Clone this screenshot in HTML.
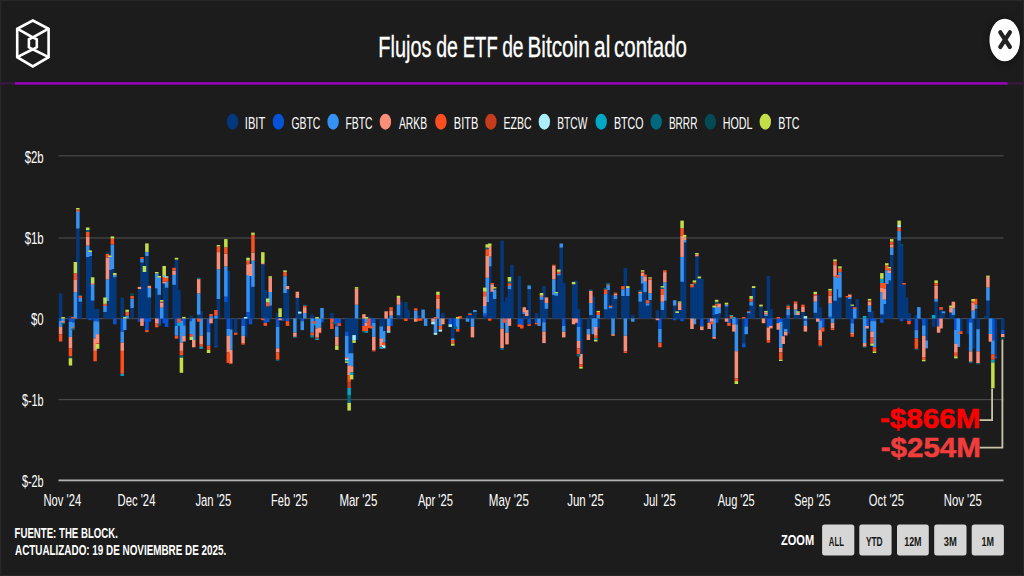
<!DOCTYPE html>
<html><head><meta charset="utf-8"><style>
html,body{margin:0;padding:0;background:#1c1c1c;}
body{width:1024px;height:576px;overflow:hidden;}
svg{display:block;font-family:"Liberation Sans",sans-serif;}
</style></head><body>
<svg width="1024" height="576" viewBox="0 0 1024 576">
<rect x="0" y="0" width="1024" height="576" fill="#1c1c1c"/>
<rect x="0" y="0" width="1024" height="1.1" fill="#282828"/>
<rect x="0" y="0" width="1.2" height="576" fill="#282828"/>
<rect x="1022.9" y="0" width="1.1" height="576" fill="#272727"/>
<rect x="0" y="574.9" width="1024" height="1.1" fill="#272727"/>
<g fill="none" stroke="#fff" stroke-width="2.6" stroke-linejoin="miter">
<path d="M32.8,20.5 L48.6,28.8 L48.6,57.2 L32.8,66.4 L17.2,57.2 L17.2,28.8 Z"/>
<path d="M17.2,28.7 L32.8,37.4 L48.6,28.7"/>
<path d="M17.2,57.2 L32.8,49.3 L48.6,57.2"/>
<path d="M32.8,37.4 L28.9,39.4 L28.9,47.3 L32.8,49.3 L36.8,47.3 L36.8,39.4 Z"/>
</g>
<defs><filter id="sh" x="-50%" y="-50%" width="200%" height="200%"><feGaussianBlur stdDeviation="3"/></filter></defs>
<ellipse cx="1004.75" cy="41" rx="16" ry="22" fill="#000" opacity="0.45" filter="url(#sh)"/>
<ellipse cx="1004.75" cy="40" rx="15.3" ry="21.3" fill="#fff"/>
<path d="M1000.3,32.3 L1009.9,47 M1009.9,32.3 L1000.3,47" stroke="#222" stroke-width="4.2" stroke-linecap="round"/>
<rect x="0" y="82.3" width="1024" height="2.2" fill="#3a1842"/>
<rect x="15" y="82.3" width="992.5" height="2.2" fill="#a300cc"/>
<ellipse cx="232.60" cy="121.7" rx="5.7" ry="8" fill="#04387c"/>
<ellipse cx="278.40" cy="121.7" rx="5.7" ry="8" fill="#0653d8"/>
<ellipse cx="333.10" cy="121.7" rx="5.7" ry="8" fill="#3592f2"/>
<ellipse cx="385.40" cy="121.7" rx="5.7" ry="8" fill="#f98f79"/>
<ellipse cx="440.90" cy="121.7" rx="5.7" ry="8" fill="#fc4e1f"/>
<ellipse cx="490.90" cy="121.7" rx="5.7" ry="8" fill="#c63b1c"/>
<ellipse cx="544.35" cy="121.7" rx="5.7" ry="8" fill="#aaeefa"/>
<ellipse cx="601.20" cy="121.7" rx="5.7" ry="8" fill="#00a8c6"/>
<ellipse cx="656.20" cy="121.7" rx="5.7" ry="8" fill="#02687d"/>
<ellipse cx="710.40" cy="121.7" rx="5.7" ry="8" fill="#034a55"/>
<ellipse cx="765.30" cy="121.7" rx="5.7" ry="8" fill="#c4de48"/>
<g fill="#494949">
<rect x="58.5" y="155.2" width="945" height="1.2"/>
<rect x="58.5" y="237.4" width="945" height="1.2"/>
<rect x="58.5" y="318" width="945" height="1.2"/>
<rect x="58.5" y="399" width="945" height="1.2"/>
</g>
<g>
<g fill="#04387c"><rect x="58.83" y="293.30" width="3.5" height="25.20"/><rect x="68.70" y="316.00" width="3.5" height="2.50"/><rect x="76.10" y="228.60" width="3.5" height="89.90"/><rect x="78.56" y="301.70" width="3.5" height="16.80"/><rect x="85.96" y="257.00" width="3.5" height="61.50"/><rect x="88.43" y="256.00" width="3.5" height="62.50"/><rect x="90.90" y="300.60" width="3.5" height="17.90"/><rect x="93.36" y="309.00" width="3.5" height="9.50"/><rect x="95.83" y="309.00" width="3.5" height="9.50"/><rect x="103.23" y="312.00" width="3.5" height="6.50"/><rect x="105.69" y="301.00" width="3.5" height="17.50"/><rect x="108.16" y="270.00" width="3.5" height="48.50"/><rect x="110.63" y="269.00" width="3.5" height="49.50"/><rect x="113.09" y="277.30" width="3.5" height="41.20"/><rect x="120.49" y="297.50" width="3.5" height="21.00"/><rect x="130.36" y="308.00" width="3.5" height="10.50"/><rect x="137.76" y="289.00" width="3.5" height="29.50"/><rect x="140.22" y="262.50" width="3.5" height="56.00"/><rect x="142.69" y="272.00" width="3.5" height="46.50"/><rect x="145.15" y="256.00" width="3.5" height="62.50"/><rect x="147.62" y="297.50" width="3.5" height="21.00"/><rect x="155.02" y="288.40" width="3.5" height="30.10"/><rect x="157.49" y="294.80" width="3.5" height="23.70"/><rect x="162.42" y="283.40" width="3.5" height="35.10"/><rect x="164.88" y="287.70" width="3.5" height="30.80"/><rect x="172.28" y="284.80" width="3.5" height="33.70"/><rect x="174.75" y="259.60" width="3.5" height="58.90"/><rect x="177.22" y="290.10" width="3.5" height="28.40"/><rect x="189.55" y="315.70" width="3.5" height="2.80"/><rect x="196.95" y="314.70" width="3.5" height="3.80"/><rect x="199.41" y="311.20" width="3.5" height="7.30"/><rect x="214.21" y="318.50" width="3.5" height="27.70"/><rect x="216.68" y="299.00" width="3.5" height="19.50"/><rect x="224.08" y="302.00" width="3.5" height="16.50"/><rect x="226.54" y="270.80" width="3.5" height="47.70"/><rect x="229.01" y="318.50" width="3.5" height="11.00"/><rect x="233.94" y="318.50" width="3.5" height="14.20"/><rect x="243.81" y="318.50" width="3.5" height="18.30"/><rect x="248.74" y="276.00" width="3.5" height="42.50"/><rect x="251.21" y="286.80" width="3.5" height="31.70"/><rect x="261.07" y="264.20" width="3.5" height="54.30"/><rect x="263.54" y="290.00" width="3.5" height="28.50"/><rect x="266.00" y="306.40" width="3.5" height="12.10"/><rect x="268.47" y="305.60" width="3.5" height="12.90"/><rect x="275.87" y="312.90" width="3.5" height="5.60"/><rect x="278.33" y="317.00" width="3.5" height="1.50"/><rect x="283.27" y="293.00" width="3.5" height="25.50"/><rect x="285.73" y="289.20" width="3.5" height="29.30"/><rect x="295.60" y="297.90" width="3.5" height="20.60"/><rect x="298.06" y="313.60" width="3.5" height="4.90"/><rect x="310.40" y="314.50" width="3.5" height="4.00"/><rect x="330.13" y="312.90" width="3.5" height="5.60"/><rect x="344.92" y="318.50" width="3.5" height="13.10"/><rect x="347.39" y="318.50" width="3.5" height="34.80"/><rect x="349.86" y="318.50" width="3.5" height="34.80"/><rect x="352.32" y="318.50" width="3.5" height="16.60"/><rect x="354.79" y="318.50" width="3.5" height="21.80"/><rect x="367.12" y="316.50" width="3.5" height="2.00"/><rect x="379.45" y="318.50" width="3.5" height="7.90"/><rect x="381.92" y="318.50" width="3.5" height="12.50"/><rect x="396.72" y="315.30" width="3.5" height="3.20"/><rect x="399.18" y="301.30" width="3.5" height="17.20"/><rect x="404.12" y="303.20" width="3.5" height="15.30"/><rect x="406.58" y="310.00" width="3.5" height="8.50"/><rect x="416.45" y="315.30" width="3.5" height="3.20"/><rect x="431.25" y="317.50" width="3.5" height="1.00"/><rect x="441.11" y="312.90" width="3.5" height="5.60"/><rect x="450.98" y="318.50" width="3.5" height="19.90"/><rect x="465.77" y="316.00" width="3.5" height="2.50"/><rect x="468.24" y="315.00" width="3.5" height="3.50"/><rect x="470.71" y="316.00" width="3.5" height="2.50"/><rect x="473.17" y="312.00" width="3.5" height="6.50"/><rect x="483.04" y="316.50" width="3.5" height="2.00"/><rect x="485.50" y="302.00" width="3.5" height="16.50"/><rect x="487.97" y="266.40" width="3.5" height="52.10"/><rect x="490.44" y="291.70" width="3.5" height="26.80"/><rect x="492.90" y="299.00" width="3.5" height="19.50"/><rect x="500.30" y="240.70" width="3.5" height="77.80"/><rect x="502.77" y="301.50" width="3.5" height="17.00"/><rect x="505.23" y="297.40" width="3.5" height="21.10"/><rect x="507.70" y="289.20" width="3.5" height="29.30"/><rect x="510.17" y="264.70" width="3.5" height="53.80"/><rect x="517.57" y="276.20" width="3.5" height="42.30"/><rect x="522.50" y="314.00" width="3.5" height="4.50"/><rect x="524.96" y="316.00" width="3.5" height="2.50"/><rect x="527.43" y="289.20" width="3.5" height="29.30"/><rect x="534.83" y="312.90" width="3.5" height="5.60"/><rect x="539.76" y="299.80" width="3.5" height="18.70"/><rect x="542.23" y="286.00" width="3.5" height="32.50"/><rect x="544.69" y="308.80" width="3.5" height="9.70"/><rect x="552.09" y="294.90" width="3.5" height="23.60"/><rect x="554.56" y="295.70" width="3.5" height="22.80"/><rect x="557.03" y="275.30" width="3.5" height="43.20"/><rect x="559.49" y="247.60" width="3.5" height="70.90"/><rect x="561.96" y="282.70" width="3.5" height="35.80"/><rect x="571.82" y="284.30" width="3.5" height="34.20"/><rect x="574.29" y="280.60" width="3.5" height="37.90"/><rect x="576.76" y="308.80" width="3.5" height="9.70"/><rect x="579.22" y="318.50" width="3.5" height="35.50"/><rect x="586.62" y="318.50" width="3.5" height="10.50"/><rect x="589.09" y="315.00" width="3.5" height="3.50"/><rect x="591.55" y="296.60" width="3.5" height="21.90"/><rect x="596.49" y="318.50" width="3.5" height="10.00"/><rect x="603.89" y="309.40" width="3.5" height="9.10"/><rect x="606.35" y="290.00" width="3.5" height="28.50"/><rect x="608.82" y="308.40" width="3.5" height="10.10"/><rect x="611.28" y="295.00" width="3.5" height="23.50"/><rect x="613.75" y="298.90" width="3.5" height="19.60"/><rect x="621.15" y="296.00" width="3.5" height="22.50"/><rect x="623.62" y="267.80" width="3.5" height="50.70"/><rect x="626.08" y="296.00" width="3.5" height="22.50"/><rect x="631.02" y="314.50" width="3.5" height="4.00"/><rect x="638.41" y="301.70" width="3.5" height="16.80"/><rect x="640.88" y="283.60" width="3.5" height="34.90"/><rect x="643.35" y="292.20" width="3.5" height="26.30"/><rect x="645.81" y="305.60" width="3.5" height="12.90"/><rect x="648.28" y="300.00" width="3.5" height="18.50"/><rect x="655.68" y="310.30" width="3.5" height="8.20"/><rect x="660.61" y="310.00" width="3.5" height="8.50"/><rect x="663.08" y="300.80" width="3.5" height="17.70"/><rect x="672.94" y="305.60" width="3.5" height="12.90"/><rect x="675.41" y="313.00" width="3.5" height="5.50"/><rect x="677.87" y="310.00" width="3.5" height="8.50"/><rect x="680.34" y="281.70" width="3.5" height="36.80"/><rect x="682.81" y="242.50" width="3.5" height="76.00"/><rect x="690.21" y="287.40" width="3.5" height="31.10"/><rect x="692.67" y="283.60" width="3.5" height="34.90"/><rect x="695.14" y="256.30" width="3.5" height="62.20"/><rect x="697.61" y="278.40" width="3.5" height="40.10"/><rect x="700.07" y="278.80" width="3.5" height="39.70"/><rect x="712.40" y="315.00" width="3.5" height="3.50"/><rect x="714.87" y="314.00" width="3.5" height="4.50"/><rect x="717.34" y="313.30" width="3.5" height="5.20"/><rect x="724.73" y="306.50" width="3.5" height="12.00"/><rect x="742.00" y="318.50" width="3.5" height="24.90"/><rect x="746.93" y="313.20" width="3.5" height="5.30"/><rect x="749.40" y="305.60" width="3.5" height="12.90"/><rect x="751.86" y="288.00" width="3.5" height="30.50"/><rect x="759.26" y="306.50" width="3.5" height="12.00"/><rect x="764.20" y="316.00" width="3.5" height="2.50"/><rect x="766.66" y="276.00" width="3.5" height="42.50"/><rect x="769.13" y="309.00" width="3.5" height="9.50"/><rect x="781.46" y="318.50" width="3.5" height="17.70"/><rect x="783.93" y="318.50" width="3.5" height="10.50"/><rect x="786.39" y="318.50" width="3.5" height="15.70"/><rect x="793.79" y="315.00" width="3.5" height="3.50"/><rect x="796.26" y="315.00" width="3.5" height="3.50"/><rect x="801.19" y="312.00" width="3.5" height="6.50"/><rect x="813.52" y="312.80" width="3.5" height="5.70"/><rect x="815.99" y="295.00" width="3.5" height="23.50"/><rect x="818.45" y="307.50" width="3.5" height="11.00"/><rect x="830.79" y="301.70" width="3.5" height="16.80"/><rect x="833.25" y="300.80" width="3.5" height="17.70"/><rect x="835.72" y="289.30" width="3.5" height="29.20"/><rect x="838.18" y="297.50" width="3.5" height="21.00"/><rect x="845.58" y="297.50" width="3.5" height="21.00"/><rect x="848.05" y="299.00" width="3.5" height="19.50"/><rect x="850.52" y="305.80" width="3.5" height="12.70"/><rect x="855.45" y="298.90" width="3.5" height="19.60"/><rect x="867.78" y="312.00" width="3.5" height="6.50"/><rect x="870.25" y="311.30" width="3.5" height="7.20"/><rect x="880.11" y="314.50" width="3.5" height="4.00"/><rect x="882.58" y="304.00" width="3.5" height="14.50"/><rect x="885.04" y="284.00" width="3.5" height="34.50"/><rect x="887.51" y="280.40" width="3.5" height="38.10"/><rect x="889.98" y="255.00" width="3.5" height="63.50"/><rect x="897.38" y="240.60" width="3.5" height="77.90"/><rect x="899.84" y="245.40" width="3.5" height="73.10"/><rect x="902.31" y="284.60" width="3.5" height="33.90"/><rect x="904.77" y="297.50" width="3.5" height="21.00"/><rect x="907.24" y="313.20" width="3.5" height="5.30"/><rect x="914.64" y="315.00" width="3.5" height="3.50"/><rect x="924.50" y="318.50" width="3.5" height="22.00"/><rect x="931.90" y="318.50" width="3.5" height="8.40"/><rect x="934.37" y="301.70" width="3.5" height="16.80"/><rect x="939.30" y="309.80" width="3.5" height="8.70"/><rect x="941.77" y="313.20" width="3.5" height="5.30"/><rect x="949.17" y="312.50" width="3.5" height="6.00"/><rect x="951.63" y="315.00" width="3.5" height="3.50"/><rect x="959.03" y="318.50" width="3.5" height="12.80"/><rect x="966.43" y="318.50" width="3.5" height="15.50"/><rect x="971.36" y="318.50" width="3.5" height="30.10"/><rect x="973.83" y="308.80" width="3.5" height="9.70"/><rect x="976.30" y="318.50" width="3.5" height="10.70"/><rect x="983.70" y="316.00" width="3.5" height="2.50"/><rect x="986.16" y="300.60" width="3.5" height="17.90"/><rect x="993.56" y="318.50" width="3.5" height="37.80"/><rect x="1000.96" y="318.50" width="3.5" height="11.40"/></g>
<g fill="#0653d8"><rect x="58.83" y="318.50" width="3.5" height="2.20"/><rect x="68.70" y="318.50" width="3.5" height="3.30"/><rect x="71.17" y="318.50" width="3.5" height="4.00"/><rect x="88.43" y="318.50" width="3.5" height="1.70"/><rect x="93.36" y="318.50" width="3.5" height="2.80"/><rect x="95.83" y="318.50" width="3.5" height="3.00"/><rect x="113.09" y="318.50" width="3.5" height="5.80"/><rect x="120.49" y="318.50" width="3.5" height="13.10"/><rect x="137.76" y="318.50" width="3.5" height="3.20"/><rect x="142.69" y="318.50" width="3.5" height="3.20"/><rect x="145.15" y="318.50" width="3.5" height="11.60"/><rect x="147.62" y="318.50" width="3.5" height="3.20"/><rect x="157.49" y="318.50" width="3.5" height="5.80"/><rect x="162.42" y="318.50" width="3.5" height="4.80"/><rect x="164.88" y="318.50" width="3.5" height="8.50"/><rect x="174.75" y="318.50" width="3.5" height="7.40"/><rect x="179.68" y="318.50" width="3.5" height="2.20"/><rect x="182.15" y="318.50" width="3.5" height="6.90"/><rect x="189.55" y="318.50" width="3.5" height="2.70"/><rect x="206.81" y="318.50" width="3.5" height="13.60"/><rect x="214.21" y="346.20" width="3.5" height="1.10"/><rect x="224.08" y="296.60" width="3.5" height="5.40"/><rect x="226.54" y="318.50" width="3.5" height="10.50"/><rect x="241.34" y="318.50" width="3.5" height="7.40"/><rect x="246.27" y="312.00" width="3.5" height="6.50"/><rect x="248.74" y="318.50" width="3.5" height="5.80"/><rect x="263.54" y="318.50" width="3.5" height="4.30"/><rect x="266.00" y="318.50" width="3.5" height="3.50"/><rect x="275.87" y="318.50" width="3.5" height="8.50"/><rect x="280.80" y="318.50" width="3.5" height="2.20"/><rect x="285.73" y="318.50" width="3.5" height="2.70"/><rect x="300.53" y="318.50" width="3.5" height="2.70"/><rect x="312.86" y="318.50" width="3.5" height="2.70"/><rect x="320.26" y="318.50" width="3.5" height="3.80"/><rect x="332.59" y="318.50" width="3.5" height="3.50"/><rect x="335.06" y="318.50" width="3.5" height="7.90"/><rect x="337.53" y="318.50" width="3.5" height="4.80"/><rect x="344.92" y="331.60" width="3.5" height="4.20"/><rect x="362.19" y="318.50" width="3.5" height="7.50"/><rect x="369.59" y="318.50" width="3.5" height="7.40"/><rect x="372.05" y="318.50" width="3.5" height="4.50"/><rect x="389.32" y="318.50" width="3.5" height="7.40"/><rect x="448.51" y="318.50" width="3.5" height="5.80"/><rect x="453.44" y="318.50" width="3.5" height="7.90"/><rect x="483.04" y="313.50" width="3.5" height="3.00"/><rect x="517.57" y="318.50" width="3.5" height="5.80"/><rect x="520.03" y="318.50" width="3.5" height="6.50"/><rect x="527.43" y="318.50" width="3.5" height="5.80"/><rect x="534.83" y="318.50" width="3.5" height="4.30"/><rect x="542.23" y="318.50" width="3.5" height="3.80"/><rect x="561.96" y="318.50" width="3.5" height="7.40"/><rect x="576.76" y="318.50" width="3.5" height="8.50"/><rect x="658.14" y="318.50" width="3.5" height="10.50"/><rect x="672.94" y="318.50" width="3.5" height="1.70"/><rect x="680.34" y="318.50" width="3.5" height="2.70"/><rect x="700.07" y="318.50" width="3.5" height="7.90"/><rect x="707.47" y="318.50" width="3.5" height="4.30"/><rect x="712.40" y="307.50" width="3.5" height="7.50"/><rect x="714.87" y="318.50" width="3.5" height="4.30"/><rect x="727.20" y="318.50" width="3.5" height="4.30"/><rect x="734.60" y="318.50" width="3.5" height="6.00"/><rect x="742.00" y="343.40" width="3.5" height="3.90"/><rect x="744.47" y="318.50" width="3.5" height="8.00"/><rect x="766.66" y="318.50" width="3.5" height="9.00"/><rect x="769.13" y="318.50" width="3.5" height="7.30"/><rect x="776.53" y="318.50" width="3.5" height="4.70"/><rect x="778.99" y="318.50" width="3.5" height="3.50"/><rect x="786.39" y="315.00" width="3.5" height="3.50"/><rect x="803.66" y="318.50" width="3.5" height="2.20"/><rect x="818.45" y="318.50" width="3.5" height="2.20"/><rect x="820.92" y="318.50" width="3.5" height="9.00"/><rect x="828.32" y="316.70" width="3.5" height="1.80"/><rect x="850.52" y="318.50" width="3.5" height="4.80"/><rect x="865.31" y="318.50" width="3.5" height="7.50"/><rect x="870.25" y="318.50" width="3.5" height="2.70"/><rect x="872.71" y="318.50" width="3.5" height="2.70"/><rect x="880.11" y="318.50" width="3.5" height="4.30"/><rect x="899.84" y="318.50" width="3.5" height="2.70"/><rect x="907.24" y="318.50" width="3.5" height="2.50"/><rect x="914.64" y="318.50" width="3.5" height="11.60"/><rect x="922.04" y="318.50" width="3.5" height="6.90"/><rect x="936.84" y="318.50" width="3.5" height="7.90"/><rect x="954.10" y="318.50" width="3.5" height="11.40"/><rect x="968.90" y="318.50" width="3.5" height="4.00"/><rect x="991.10" y="318.50" width="3.5" height="22.00"/><rect x="993.56" y="356.30" width="3.5" height="2.10"/><rect x="1000.96" y="329.90" width="3.5" height="4.10"/></g>
<g fill="#3592f2"><rect x="58.83" y="320.70" width="3.5" height="6.20"/><rect x="61.30" y="318.50" width="3.5" height="2.60"/><rect x="68.70" y="321.80" width="3.5" height="15.00"/><rect x="71.17" y="322.50" width="3.5" height="5.00"/><rect x="73.63" y="292.20" width="3.5" height="26.30"/><rect x="76.10" y="211.70" width="3.5" height="16.90"/><rect x="78.56" y="297.90" width="3.5" height="3.80"/><rect x="85.96" y="245.60" width="3.5" height="11.40"/><rect x="88.43" y="252.00" width="3.5" height="4.00"/><rect x="90.90" y="284.70" width="3.5" height="15.90"/><rect x="93.36" y="321.30" width="3.5" height="17.10"/><rect x="95.83" y="321.50" width="3.5" height="12.70"/><rect x="103.23" y="306.00" width="3.5" height="6.00"/><rect x="105.69" y="279.40" width="3.5" height="21.60"/><rect x="108.16" y="257.00" width="3.5" height="13.00"/><rect x="110.63" y="244.50" width="3.5" height="24.50"/><rect x="113.09" y="275.20" width="3.5" height="2.10"/><rect x="120.49" y="331.60" width="3.5" height="11.00"/><rect x="122.96" y="318.50" width="3.5" height="11.60"/><rect x="125.42" y="315.50" width="3.5" height="3.00"/><rect x="130.36" y="298.50" width="3.5" height="9.50"/><rect x="140.22" y="258.90" width="3.5" height="3.60"/><rect x="145.15" y="251.90" width="3.5" height="4.10"/><rect x="147.62" y="288.00" width="3.5" height="9.50"/><rect x="155.02" y="273.50" width="3.5" height="14.90"/><rect x="157.49" y="277.70" width="3.5" height="17.10"/><rect x="159.95" y="307.60" width="3.5" height="10.90"/><rect x="164.88" y="281.30" width="3.5" height="6.40"/><rect x="172.28" y="274.90" width="3.5" height="9.90"/><rect x="174.75" y="325.90" width="3.5" height="9.90"/><rect x="179.68" y="320.70" width="3.5" height="21.90"/><rect x="182.15" y="325.40" width="3.5" height="10.40"/><rect x="189.55" y="321.20" width="3.5" height="13.00"/><rect x="192.01" y="318.50" width="3.5" height="21.50"/><rect x="196.95" y="293.40" width="3.5" height="21.30"/><rect x="199.41" y="318.50" width="3.5" height="17.30"/><rect x="206.81" y="332.10" width="3.5" height="13.60"/><rect x="209.28" y="316.20" width="3.5" height="2.30"/><rect x="214.21" y="315.50" width="3.5" height="3.00"/><rect x="216.68" y="269.20" width="3.5" height="29.80"/><rect x="224.08" y="266.40" width="3.5" height="30.20"/><rect x="226.54" y="329.00" width="3.5" height="6.80"/><rect x="229.01" y="329.50" width="3.5" height="20.40"/><rect x="241.34" y="325.90" width="3.5" height="9.90"/><rect x="246.27" y="275.00" width="3.5" height="37.00"/><rect x="251.21" y="260.70" width="3.5" height="26.10"/><rect x="268.47" y="292.00" width="3.5" height="13.60"/><rect x="275.87" y="327.00" width="3.5" height="21.30"/><rect x="283.27" y="276.20" width="3.5" height="16.80"/><rect x="293.13" y="318.50" width="3.5" height="14.20"/><rect x="300.53" y="321.20" width="3.5" height="8.90"/><rect x="303.00" y="313.00" width="3.5" height="5.50"/><rect x="310.40" y="318.50" width="3.5" height="14.20"/><rect x="315.33" y="318.50" width="3.5" height="10.00"/><rect x="317.80" y="318.50" width="3.5" height="9.00"/><rect x="320.26" y="308.00" width="3.5" height="10.50"/><rect x="335.06" y="326.40" width="3.5" height="10.40"/><rect x="344.92" y="335.80" width="3.5" height="21.60"/><rect x="347.39" y="353.30" width="3.5" height="12.20"/><rect x="349.86" y="353.30" width="3.5" height="13.00"/><rect x="354.79" y="304.70" width="3.5" height="13.80"/><rect x="364.65" y="318.50" width="3.5" height="4.20"/><rect x="372.05" y="323.00" width="3.5" height="13.80"/><rect x="379.45" y="326.40" width="3.5" height="12.00"/><rect x="381.92" y="331.00" width="3.5" height="11.60"/><rect x="386.85" y="318.50" width="3.5" height="7.40"/><rect x="389.32" y="315.50" width="3.5" height="3.00"/><rect x="396.72" y="304.70" width="3.5" height="10.60"/><rect x="413.98" y="310.40" width="3.5" height="8.10"/><rect x="421.38" y="309.60" width="3.5" height="8.90"/><rect x="423.85" y="318.50" width="3.5" height="7.40"/><rect x="433.71" y="318.50" width="3.5" height="14.20"/><rect x="436.18" y="308.80" width="3.5" height="9.70"/><rect x="438.64" y="318.50" width="3.5" height="7.40"/><rect x="450.98" y="338.40" width="3.5" height="1.60"/><rect x="455.91" y="318.50" width="3.5" height="10.50"/><rect x="465.77" y="318.50" width="3.5" height="3.20"/><rect x="470.71" y="318.50" width="3.5" height="8.40"/><rect x="473.17" y="310.00" width="3.5" height="2.00"/><rect x="483.04" y="306.00" width="3.5" height="7.50"/><rect x="485.50" y="277.80" width="3.5" height="24.20"/><rect x="487.97" y="256.60" width="3.5" height="9.80"/><rect x="492.90" y="289.70" width="3.5" height="9.30"/><rect x="500.30" y="318.50" width="3.5" height="10.10"/><rect x="505.23" y="318.50" width="3.5" height="14.20"/><rect x="507.70" y="286.00" width="3.5" height="3.20"/><rect x="522.50" y="312.00" width="3.5" height="2.00"/><rect x="527.43" y="286.00" width="3.5" height="3.20"/><rect x="537.30" y="318.50" width="3.5" height="7.40"/><rect x="539.76" y="296.60" width="3.5" height="3.20"/><rect x="542.23" y="322.30" width="3.5" height="9.30"/><rect x="544.69" y="303.10" width="3.5" height="5.70"/><rect x="552.09" y="279.40" width="3.5" height="15.50"/><rect x="554.56" y="293.30" width="3.5" height="2.40"/><rect x="557.03" y="273.70" width="3.5" height="1.60"/><rect x="559.49" y="243.50" width="3.5" height="4.10"/><rect x="561.96" y="325.90" width="3.5" height="5.70"/><rect x="576.76" y="327.00" width="3.5" height="14.00"/><rect x="586.62" y="329.00" width="3.5" height="5.20"/><rect x="589.09" y="303.10" width="3.5" height="11.90"/><rect x="591.55" y="318.50" width="3.5" height="15.70"/><rect x="594.02" y="318.50" width="3.5" height="8.40"/><rect x="596.49" y="315.00" width="3.5" height="3.50"/><rect x="603.89" y="294.10" width="3.5" height="15.30"/><rect x="606.35" y="285.50" width="3.5" height="4.50"/><rect x="608.82" y="307.00" width="3.5" height="1.40"/><rect x="611.28" y="318.50" width="3.5" height="15.70"/><rect x="613.75" y="295.40" width="3.5" height="3.50"/><rect x="621.15" y="289.30" width="3.5" height="6.70"/><rect x="623.62" y="318.50" width="3.5" height="17.30"/><rect x="626.08" y="288.00" width="3.5" height="8.00"/><rect x="631.02" y="318.50" width="3.5" height="3.20"/><rect x="638.41" y="293.70" width="3.5" height="8.00"/><rect x="640.88" y="276.00" width="3.5" height="7.60"/><rect x="643.35" y="281.70" width="3.5" height="10.50"/><rect x="645.81" y="303.30" width="3.5" height="2.30"/><rect x="648.28" y="293.10" width="3.5" height="6.90"/><rect x="658.14" y="329.00" width="3.5" height="13.60"/><rect x="660.61" y="301.70" width="3.5" height="8.30"/><rect x="663.08" y="282.30" width="3.5" height="18.50"/><rect x="672.94" y="300.20" width="3.5" height="5.40"/><rect x="680.34" y="256.90" width="3.5" height="24.80"/><rect x="682.81" y="240.00" width="3.5" height="2.50"/><rect x="692.67" y="318.50" width="3.5" height="5.80"/><rect x="712.40" y="318.50" width="3.5" height="18.30"/><rect x="714.87" y="305.60" width="3.5" height="8.40"/><rect x="717.34" y="307.60" width="3.5" height="5.70"/><rect x="724.73" y="304.60" width="3.5" height="1.90"/><rect x="732.13" y="318.50" width="3.5" height="5.90"/><rect x="734.60" y="324.50" width="3.5" height="26.70"/><rect x="744.47" y="326.50" width="3.5" height="7.70"/><rect x="746.93" y="311.70" width="3.5" height="1.50"/><rect x="749.40" y="301.70" width="3.5" height="3.90"/><rect x="764.20" y="314.50" width="3.5" height="1.50"/><rect x="778.99" y="322.00" width="3.5" height="25.90"/><rect x="783.93" y="329.00" width="3.5" height="2.60"/><rect x="786.39" y="309.40" width="3.5" height="5.60"/><rect x="793.79" y="309.40" width="3.5" height="5.60"/><rect x="803.66" y="320.70" width="3.5" height="5.20"/><rect x="813.52" y="301.70" width="3.5" height="11.10"/><rect x="818.45" y="320.70" width="3.5" height="9.40"/><rect x="828.32" y="303.50" width="3.5" height="13.20"/><rect x="830.79" y="318.50" width="3.5" height="4.30"/><rect x="833.25" y="276.50" width="3.5" height="24.30"/><rect x="835.72" y="277.90" width="3.5" height="11.40"/><rect x="838.18" y="272.10" width="3.5" height="25.40"/><rect x="848.05" y="297.00" width="3.5" height="2.00"/><rect x="850.52" y="323.30" width="3.5" height="9.40"/><rect x="852.98" y="309.00" width="3.5" height="9.50"/><rect x="862.85" y="318.50" width="3.5" height="24.60"/><rect x="867.78" y="305.60" width="3.5" height="6.40"/><rect x="870.25" y="321.20" width="3.5" height="10.40"/><rect x="872.71" y="321.20" width="3.5" height="26.10"/><rect x="880.11" y="292.20" width="3.5" height="22.30"/><rect x="882.58" y="299.50" width="3.5" height="4.50"/><rect x="885.04" y="270.20" width="3.5" height="13.80"/><rect x="887.51" y="273.10" width="3.5" height="7.30"/><rect x="889.98" y="247.60" width="3.5" height="7.40"/><rect x="897.38" y="231.10" width="3.5" height="9.50"/><rect x="914.64" y="330.10" width="3.5" height="8.30"/><rect x="917.11" y="307.10" width="3.5" height="11.40"/><rect x="922.04" y="325.40" width="3.5" height="10.40"/><rect x="924.50" y="340.50" width="3.5" height="7.80"/><rect x="934.37" y="298.90" width="3.5" height="2.80"/><rect x="941.77" y="311.30" width="3.5" height="1.90"/><rect x="951.63" y="308.40" width="3.5" height="6.60"/><rect x="954.10" y="329.90" width="3.5" height="13.90"/><rect x="956.57" y="318.50" width="3.5" height="28.50"/><rect x="968.90" y="322.50" width="3.5" height="28.90"/><rect x="971.36" y="310.60" width="3.5" height="7.90"/><rect x="973.83" y="304.40" width="3.5" height="4.40"/><rect x="976.30" y="329.20" width="3.5" height="22.20"/><rect x="986.16" y="287.50" width="3.5" height="13.10"/><rect x="988.63" y="318.50" width="3.5" height="15.50"/><rect x="991.10" y="340.50" width="3.5" height="13.70"/></g>
<g fill="#f98f79"><rect x="58.83" y="326.90" width="3.5" height="7.30"/><rect x="61.30" y="321.10" width="3.5" height="1.70"/><rect x="68.70" y="336.80" width="3.5" height="11.50"/><rect x="71.17" y="327.50" width="3.5" height="1.00"/><rect x="73.63" y="280.00" width="3.5" height="12.20"/><rect x="76.10" y="210.50" width="3.5" height="1.20"/><rect x="85.96" y="236.40" width="3.5" height="9.20"/><rect x="90.90" y="283.00" width="3.5" height="1.70"/><rect x="93.36" y="338.40" width="3.5" height="12.50"/><rect x="95.83" y="334.20" width="3.5" height="8.90"/><rect x="105.69" y="257.60" width="3.5" height="21.80"/><rect x="120.49" y="342.60" width="3.5" height="8.30"/><rect x="137.76" y="286.90" width="3.5" height="2.10"/><rect x="140.22" y="318.50" width="3.5" height="7.40"/><rect x="147.62" y="285.80" width="3.5" height="2.20"/><rect x="155.02" y="318.50" width="3.5" height="4.50"/><rect x="159.95" y="302.60" width="3.5" height="5.00"/><rect x="162.42" y="281.60" width="3.5" height="1.80"/><rect x="172.28" y="270.60" width="3.5" height="4.30"/><rect x="179.68" y="342.60" width="3.5" height="8.30"/><rect x="182.15" y="335.80" width="3.5" height="5.70"/><rect x="192.01" y="340.00" width="3.5" height="7.30"/><rect x="196.95" y="279.10" width="3.5" height="14.30"/><rect x="199.41" y="335.80" width="3.5" height="8.30"/><rect x="209.28" y="318.50" width="3.5" height="4.80"/><rect x="216.68" y="252.10" width="3.5" height="17.10"/><rect x="224.08" y="253.80" width="3.5" height="12.60"/><rect x="226.54" y="335.80" width="3.5" height="16.70"/><rect x="229.01" y="349.90" width="3.5" height="13.50"/><rect x="241.34" y="335.80" width="3.5" height="7.30"/><rect x="246.27" y="264.20" width="3.5" height="10.80"/><rect x="248.74" y="264.00" width="3.5" height="12.00"/><rect x="251.21" y="252.50" width="3.5" height="8.20"/><rect x="261.07" y="263.00" width="3.5" height="1.20"/><rect x="268.47" y="277.80" width="3.5" height="14.20"/><rect x="275.87" y="348.30" width="3.5" height="4.20"/><rect x="278.33" y="318.50" width="3.5" height="1.70"/><rect x="285.73" y="286.00" width="3.5" height="3.20"/><rect x="293.13" y="332.70" width="3.5" height="4.10"/><rect x="295.60" y="291.70" width="3.5" height="6.20"/><rect x="303.00" y="307.20" width="3.5" height="5.80"/><rect x="315.33" y="328.50" width="3.5" height="8.90"/><rect x="317.80" y="327.50" width="3.5" height="5.20"/><rect x="335.06" y="336.80" width="3.5" height="8.90"/><rect x="344.92" y="357.40" width="3.5" height="1.60"/><rect x="347.39" y="365.50" width="3.5" height="9.50"/><rect x="349.86" y="366.30" width="3.5" height="6.10"/><rect x="354.79" y="288.70" width="3.5" height="16.00"/><rect x="362.19" y="314.20" width="3.5" height="4.30"/><rect x="364.65" y="322.70" width="3.5" height="3.30"/><rect x="372.05" y="336.80" width="3.5" height="13.60"/><rect x="379.45" y="338.40" width="3.5" height="7.80"/><rect x="384.39" y="311.30" width="3.5" height="7.20"/><rect x="386.85" y="325.90" width="3.5" height="5.20"/><rect x="389.32" y="310.40" width="3.5" height="5.10"/><rect x="396.72" y="297.90" width="3.5" height="6.80"/><rect x="413.98" y="318.50" width="3.5" height="3.20"/><rect x="431.25" y="318.50" width="3.5" height="3.20"/><rect x="436.18" y="299.00" width="3.5" height="9.80"/><rect x="441.11" y="318.50" width="3.5" height="5.80"/><rect x="470.71" y="326.90" width="3.5" height="10.50"/><rect x="483.04" y="296.20" width="3.5" height="9.80"/><rect x="485.50" y="255.80" width="3.5" height="22.00"/><rect x="487.97" y="246.00" width="3.5" height="10.60"/><rect x="490.44" y="284.30" width="3.5" height="7.40"/><rect x="500.30" y="328.60" width="3.5" height="19.40"/><rect x="505.23" y="332.70" width="3.5" height="11.40"/><rect x="507.70" y="318.50" width="3.5" height="7.40"/><rect x="522.50" y="307.20" width="3.5" height="4.80"/><rect x="524.96" y="310.00" width="3.5" height="6.00"/><rect x="539.76" y="295.30" width="3.5" height="1.30"/><rect x="542.23" y="331.60" width="3.5" height="11.50"/><rect x="544.69" y="297.40" width="3.5" height="5.70"/><rect x="552.09" y="265.60" width="3.5" height="13.80"/><rect x="561.96" y="331.60" width="3.5" height="5.80"/><rect x="571.82" y="318.50" width="3.5" height="5.80"/><rect x="574.29" y="318.50" width="3.5" height="4.30"/><rect x="576.76" y="341.00" width="3.5" height="7.30"/><rect x="579.22" y="354.00" width="3.5" height="10.40"/><rect x="586.62" y="334.20" width="3.5" height="5.80"/><rect x="589.09" y="290.90" width="3.5" height="12.20"/><rect x="594.02" y="326.90" width="3.5" height="8.90"/><rect x="606.35" y="284.50" width="3.5" height="1.00"/><rect x="611.28" y="334.20" width="3.5" height="1.60"/><rect x="613.75" y="293.50" width="3.5" height="1.90"/><rect x="623.62" y="335.80" width="3.5" height="15.60"/><rect x="638.41" y="291.80" width="3.5" height="1.90"/><rect x="640.88" y="272.70" width="3.5" height="3.30"/><rect x="643.35" y="276.50" width="3.5" height="5.20"/><rect x="648.28" y="279.80" width="3.5" height="13.30"/><rect x="655.68" y="318.50" width="3.5" height="1.70"/><rect x="660.61" y="295.00" width="3.5" height="6.70"/><rect x="663.08" y="272.10" width="3.5" height="10.20"/><rect x="677.87" y="302.70" width="3.5" height="7.30"/><rect x="680.34" y="235.90" width="3.5" height="21.00"/><rect x="682.81" y="237.50" width="3.5" height="2.50"/><rect x="690.21" y="318.50" width="3.5" height="10.50"/><rect x="695.14" y="254.40" width="3.5" height="1.90"/><rect x="700.07" y="326.40" width="3.5" height="3.70"/><rect x="707.47" y="322.80" width="3.5" height="6.20"/><rect x="709.94" y="318.50" width="3.5" height="3.20"/><rect x="712.40" y="336.80" width="3.5" height="1.90"/><rect x="717.34" y="303.60" width="3.5" height="4.00"/><rect x="724.73" y="318.50" width="3.5" height="3.20"/><rect x="732.13" y="324.40" width="3.5" height="7.20"/><rect x="734.60" y="351.20" width="3.5" height="27.30"/><rect x="761.73" y="318.50" width="3.5" height="4.70"/><rect x="764.20" y="312.20" width="3.5" height="2.30"/><rect x="766.66" y="327.50" width="3.5" height="12.60"/><rect x="769.13" y="325.80" width="3.5" height="2.60"/><rect x="776.53" y="323.20" width="3.5" height="6.50"/><rect x="778.99" y="347.90" width="3.5" height="4.60"/><rect x="781.46" y="336.20" width="3.5" height="7.80"/><rect x="783.93" y="331.60" width="3.5" height="3.90"/><rect x="786.39" y="307.50" width="3.5" height="1.90"/><rect x="793.79" y="303.30" width="3.5" height="6.10"/><rect x="796.26" y="312.80" width="3.5" height="2.20"/><rect x="801.19" y="307.00" width="3.5" height="5.00"/><rect x="803.66" y="325.90" width="3.5" height="5.70"/><rect x="813.52" y="295.60" width="3.5" height="6.10"/><rect x="815.99" y="318.50" width="3.5" height="3.20"/><rect x="818.45" y="330.10" width="3.5" height="9.90"/><rect x="828.32" y="295.80" width="3.5" height="7.70"/><rect x="830.79" y="322.80" width="3.5" height="5.70"/><rect x="833.25" y="265.10" width="3.5" height="11.40"/><rect x="848.05" y="294.50" width="3.5" height="2.50"/><rect x="850.52" y="332.70" width="3.5" height="1.50"/><rect x="862.85" y="343.10" width="3.5" height="3.60"/><rect x="865.31" y="326.00" width="3.5" height="2.50"/><rect x="867.78" y="301.70" width="3.5" height="3.90"/><rect x="870.25" y="331.60" width="3.5" height="5.80"/><rect x="880.11" y="288.00" width="3.5" height="4.20"/><rect x="882.58" y="288.40" width="3.5" height="11.10"/><rect x="887.51" y="270.40" width="3.5" height="2.70"/><rect x="889.98" y="244.50" width="3.5" height="3.10"/><rect x="922.04" y="335.80" width="3.5" height="21.30"/><rect x="934.37" y="285.50" width="3.5" height="13.40"/><rect x="936.84" y="326.40" width="3.5" height="6.30"/><rect x="939.30" y="318.50" width="3.5" height="10.00"/><rect x="949.17" y="307.50" width="3.5" height="5.00"/><rect x="951.63" y="301.70" width="3.5" height="6.70"/><rect x="954.10" y="343.80" width="3.5" height="9.00"/><rect x="968.90" y="351.40" width="3.5" height="10.40"/><rect x="971.36" y="302.50" width="3.5" height="8.10"/><rect x="976.30" y="351.40" width="3.5" height="11.80"/><rect x="986.16" y="276.90" width="3.5" height="10.60"/><rect x="988.63" y="334.00" width="3.5" height="7.70"/><rect x="1000.96" y="334.00" width="3.5" height="3.00"/></g>
<g fill="#fc4e1f"><rect x="58.83" y="334.20" width="3.5" height="7.30"/><rect x="68.70" y="348.30" width="3.5" height="8.30"/><rect x="71.17" y="317.00" width="3.5" height="1.50"/><rect x="73.63" y="273.10" width="3.5" height="6.90"/><rect x="76.10" y="209.50" width="3.5" height="1.00"/><rect x="78.56" y="295.80" width="3.5" height="2.10"/><rect x="85.96" y="231.80" width="3.5" height="4.60"/><rect x="93.36" y="350.90" width="3.5" height="10.40"/><rect x="95.83" y="343.10" width="3.5" height="0.90"/><rect x="103.23" y="303.80" width="3.5" height="2.20"/><rect x="105.69" y="254.00" width="3.5" height="3.60"/><rect x="110.63" y="238.60" width="3.5" height="5.90"/><rect x="120.49" y="350.90" width="3.5" height="22.90"/><rect x="125.42" y="311.90" width="3.5" height="3.60"/><rect x="130.36" y="295.80" width="3.5" height="2.70"/><rect x="140.22" y="257.20" width="3.5" height="1.70"/><rect x="145.15" y="330.10" width="3.5" height="2.00"/><rect x="155.02" y="323.00" width="3.5" height="4.30"/><rect x="159.95" y="301.50" width="3.5" height="1.10"/><rect x="162.42" y="276.70" width="3.5" height="4.90"/><rect x="164.88" y="277.70" width="3.5" height="3.60"/><rect x="172.28" y="267.80" width="3.5" height="2.80"/><rect x="174.75" y="335.80" width="3.5" height="2.90"/><rect x="177.22" y="318.50" width="3.5" height="4.30"/><rect x="179.68" y="350.90" width="3.5" height="4.50"/><rect x="189.55" y="334.20" width="3.5" height="2.60"/><rect x="196.95" y="318.50" width="3.5" height="3.20"/><rect x="199.41" y="344.10" width="3.5" height="2.60"/><rect x="206.81" y="345.70" width="3.5" height="4.20"/><rect x="209.28" y="314.00" width="3.5" height="2.20"/><rect x="214.21" y="310.00" width="3.5" height="5.50"/><rect x="216.68" y="246.40" width="3.5" height="5.70"/><rect x="224.08" y="247.30" width="3.5" height="6.50"/><rect x="226.54" y="352.50" width="3.5" height="10.40"/><rect x="229.01" y="363.40" width="3.5" height="0.70"/><rect x="233.94" y="332.70" width="3.5" height="2.10"/><rect x="241.34" y="343.10" width="3.5" height="1.50"/><rect x="246.27" y="260.70" width="3.5" height="3.50"/><rect x="251.21" y="234.90" width="3.5" height="17.60"/><rect x="261.07" y="318.50" width="3.5" height="1.70"/><rect x="263.54" y="322.80" width="3.5" height="3.10"/><rect x="266.00" y="302.30" width="3.5" height="4.10"/><rect x="275.87" y="352.50" width="3.5" height="7.30"/><rect x="283.27" y="272.10" width="3.5" height="4.10"/><rect x="285.73" y="321.20" width="3.5" height="4.70"/><rect x="303.00" y="306.00" width="3.5" height="1.20"/><rect x="310.40" y="332.70" width="3.5" height="2.60"/><rect x="312.86" y="321.20" width="3.5" height="2.60"/><rect x="315.33" y="337.40" width="3.5" height="1.10"/><rect x="317.80" y="332.70" width="3.5" height="0.50"/><rect x="330.13" y="318.50" width="3.5" height="10.50"/><rect x="337.53" y="323.30" width="3.5" height="2.60"/><rect x="347.39" y="375.00" width="3.5" height="6.90"/><rect x="362.19" y="326.00" width="3.5" height="5.00"/><rect x="364.65" y="326.00" width="3.5" height="5.10"/><rect x="367.12" y="318.50" width="3.5" height="9.50"/><rect x="369.59" y="325.90" width="3.5" height="2.60"/><rect x="372.05" y="350.40" width="3.5" height="1.00"/><rect x="379.45" y="346.20" width="3.5" height="0.80"/><rect x="381.92" y="342.60" width="3.5" height="2.60"/><rect x="389.32" y="307.20" width="3.5" height="3.20"/><rect x="404.12" y="318.50" width="3.5" height="2.50"/><rect x="413.98" y="308.30" width="3.5" height="2.10"/><rect x="416.45" y="318.50" width="3.5" height="2.20"/><rect x="418.91" y="318.50" width="3.5" height="2.20"/><rect x="433.71" y="317.00" width="3.5" height="1.50"/><rect x="436.18" y="294.90" width="3.5" height="4.10"/><rect x="438.64" y="325.90" width="3.5" height="3.60"/><rect x="450.98" y="340.00" width="3.5" height="3.60"/><rect x="455.91" y="329.00" width="3.5" height="2.60"/><rect x="458.37" y="316.00" width="3.5" height="2.50"/><rect x="468.24" y="313.60" width="3.5" height="1.40"/><rect x="483.04" y="291.70" width="3.5" height="4.50"/><rect x="485.50" y="249.20" width="3.5" height="6.60"/><rect x="487.97" y="318.50" width="3.5" height="2.20"/><rect x="490.44" y="283.00" width="3.5" height="1.30"/><rect x="502.77" y="318.50" width="3.5" height="4.30"/><rect x="505.23" y="344.10" width="3.5" height="0.50"/><rect x="507.70" y="283.20" width="3.5" height="2.80"/><rect x="517.57" y="324.30" width="3.5" height="2.60"/><rect x="520.03" y="325.00" width="3.5" height="3.50"/><rect x="527.43" y="324.30" width="3.5" height="1.60"/><rect x="534.83" y="322.80" width="3.5" height="1.50"/><rect x="552.09" y="264.70" width="3.5" height="0.90"/><rect x="557.03" y="271.80" width="3.5" height="1.90"/><rect x="576.76" y="348.30" width="3.5" height="5.70"/><rect x="579.22" y="364.40" width="3.5" height="2.60"/><rect x="594.02" y="335.80" width="3.5" height="2.60"/><rect x="596.49" y="312.00" width="3.5" height="3.00"/><rect x="603.89" y="289.30" width="3.5" height="4.80"/><rect x="608.82" y="305.60" width="3.5" height="1.40"/><rect x="613.75" y="292.60" width="3.5" height="0.90"/><rect x="621.15" y="286.10" width="3.5" height="3.20"/><rect x="623.62" y="351.40" width="3.5" height="1.60"/><rect x="640.88" y="271.60" width="3.5" height="1.10"/><rect x="643.35" y="274.60" width="3.5" height="1.90"/><rect x="645.81" y="300.20" width="3.5" height="3.10"/><rect x="648.28" y="278.50" width="3.5" height="1.30"/><rect x="658.14" y="342.60" width="3.5" height="4.70"/><rect x="660.61" y="288.80" width="3.5" height="6.20"/><rect x="663.08" y="270.20" width="3.5" height="1.90"/><rect x="680.34" y="228.20" width="3.5" height="7.70"/><rect x="690.21" y="284.90" width="3.5" height="2.50"/><rect x="692.67" y="282.20" width="3.5" height="1.40"/><rect x="709.94" y="321.70" width="3.5" height="2.60"/><rect x="714.87" y="303.70" width="3.5" height="1.90"/><rect x="727.20" y="322.80" width="3.5" height="3.10"/><rect x="729.67" y="316.00" width="3.5" height="2.50"/><rect x="734.60" y="378.50" width="3.5" height="2.60"/><rect x="742.00" y="317.00" width="3.5" height="1.50"/><rect x="746.93" y="310.90" width="3.5" height="0.80"/><rect x="749.40" y="298.90" width="3.5" height="2.80"/><rect x="766.66" y="340.10" width="3.5" height="2.60"/><rect x="776.53" y="317.00" width="3.5" height="1.50"/><rect x="778.99" y="352.50" width="3.5" height="7.10"/><rect x="786.39" y="305.60" width="3.5" height="1.90"/><rect x="793.79" y="301.40" width="3.5" height="1.90"/><rect x="801.19" y="304.60" width="3.5" height="2.40"/><rect x="813.52" y="294.00" width="3.5" height="1.60"/><rect x="818.45" y="340.00" width="3.5" height="5.70"/><rect x="820.92" y="327.50" width="3.5" height="4.10"/><rect x="828.32" y="290.60" width="3.5" height="5.20"/><rect x="830.79" y="328.50" width="3.5" height="1.60"/><rect x="833.25" y="261.30" width="3.5" height="3.80"/><rect x="835.72" y="275.00" width="3.5" height="2.90"/><rect x="838.18" y="268.30" width="3.5" height="3.80"/><rect x="845.58" y="296.00" width="3.5" height="1.50"/><rect x="850.52" y="334.20" width="3.5" height="2.60"/><rect x="852.98" y="307.20" width="3.5" height="1.80"/><rect x="867.78" y="300.50" width="3.5" height="1.20"/><rect x="870.25" y="337.40" width="3.5" height="6.20"/><rect x="872.71" y="347.30" width="3.5" height="4.10"/><rect x="880.11" y="283.00" width="3.5" height="5.00"/><rect x="882.58" y="283.00" width="3.5" height="5.40"/><rect x="885.04" y="265.50" width="3.5" height="4.70"/><rect x="887.51" y="268.30" width="3.5" height="2.10"/><rect x="889.98" y="241.60" width="3.5" height="2.90"/><rect x="897.38" y="227.30" width="3.5" height="3.80"/><rect x="902.31" y="283.00" width="3.5" height="1.60"/><rect x="907.24" y="321.00" width="3.5" height="3.30"/><rect x="914.64" y="338.40" width="3.5" height="10.40"/><rect x="922.04" y="357.10" width="3.5" height="2.70"/><rect x="934.37" y="283.00" width="3.5" height="2.50"/><rect x="939.30" y="307.10" width="3.5" height="2.70"/><rect x="954.10" y="352.80" width="3.5" height="3.50"/><rect x="959.03" y="331.30" width="3.5" height="2.70"/><rect x="971.36" y="301.50" width="3.5" height="1.00"/><rect x="973.83" y="298.80" width="3.5" height="5.60"/><rect x="991.10" y="354.20" width="3.5" height="5.60"/></g>
<g fill="#c63b1c"><rect x="347.39" y="381.90" width="3.5" height="6.10"/></g>
<g fill="#aaeefa"><rect x="162.42" y="275.30" width="3.5" height="1.40"/><rect x="164.88" y="276.30" width="3.5" height="1.40"/><rect x="243.81" y="317.00" width="3.5" height="1.50"/><rect x="298.06" y="311.60" width="3.5" height="2.00"/><rect x="344.92" y="359.00" width="3.5" height="1.50"/><rect x="352.32" y="335.10" width="3.5" height="5.20"/><rect x="381.92" y="345.20" width="3.5" height="3.10"/><rect x="386.85" y="331.10" width="3.5" height="1.60"/><rect x="431.25" y="321.70" width="3.5" height="2.60"/><rect x="433.71" y="332.70" width="3.5" height="2.10"/><rect x="438.64" y="329.50" width="3.5" height="2.10"/><rect x="448.51" y="324.30" width="3.5" height="2.60"/><rect x="803.66" y="316.10" width="3.5" height="2.40"/><rect x="897.38" y="225.00" width="3.5" height="2.30"/></g>
<g fill="#00a8c6"><rect x="120.49" y="373.80" width="3.5" height="2.10"/><rect x="177.22" y="322.80" width="3.5" height="3.10"/><rect x="199.41" y="346.70" width="3.5" height="2.10"/><rect x="310.40" y="335.30" width="3.5" height="1.50"/><rect x="312.86" y="323.80" width="3.5" height="1.60"/><rect x="315.33" y="338.50" width="3.5" height="1.50"/><rect x="344.92" y="360.50" width="3.5" height="1.00"/><rect x="347.39" y="388.00" width="3.5" height="7.00"/><rect x="349.86" y="372.40" width="3.5" height="2.60"/><rect x="364.65" y="331.10" width="3.5" height="1.60"/><rect x="379.45" y="347.00" width="3.5" height="1.80"/><rect x="468.24" y="312.90" width="3.5" height="0.70"/><rect x="594.02" y="338.40" width="3.5" height="1.60"/><rect x="729.67" y="315.00" width="3.5" height="1.00"/><rect x="732.13" y="317.00" width="3.5" height="1.50"/><rect x="862.85" y="316.00" width="3.5" height="2.50"/><rect x="880.11" y="278.80" width="3.5" height="4.20"/><rect x="931.90" y="315.00" width="3.5" height="3.50"/><rect x="991.10" y="359.80" width="3.5" height="2.70"/></g>
<g fill="#02687d"><rect x="61.30" y="322.80" width="3.5" height="1.50"/><rect x="71.17" y="328.50" width="3.5" height="1.60"/><rect x="78.56" y="295.00" width="3.5" height="0.80"/><rect x="85.96" y="230.00" width="3.5" height="1.80"/><rect x="157.49" y="324.30" width="3.5" height="1.30"/><rect x="179.68" y="355.40" width="3.5" height="2.30"/><rect x="196.95" y="277.70" width="3.5" height="1.40"/><rect x="275.87" y="359.80" width="3.5" height="1.20"/><rect x="293.13" y="336.80" width="3.5" height="1.20"/><rect x="303.00" y="304.70" width="3.5" height="1.30"/><rect x="310.40" y="336.80" width="3.5" height="1.10"/><rect x="332.59" y="322.00" width="3.5" height="2.00"/><rect x="347.39" y="395.00" width="3.5" height="7.80"/><rect x="362.19" y="331.00" width="3.5" height="1.50"/><rect x="453.44" y="326.40" width="3.5" height="2.60"/><rect x="485.50" y="247.60" width="3.5" height="1.60"/><rect x="492.90" y="288.50" width="3.5" height="1.20"/><rect x="500.30" y="348.00" width="3.5" height="2.00"/><rect x="507.70" y="281.50" width="3.5" height="1.70"/><rect x="527.43" y="284.80" width="3.5" height="1.20"/><rect x="576.76" y="354.00" width="3.5" height="2.60"/><rect x="589.09" y="289.70" width="3.5" height="1.20"/><rect x="603.89" y="288.00" width="3.5" height="1.30"/><rect x="606.35" y="283.00" width="3.5" height="1.50"/><rect x="638.41" y="290.30" width="3.5" height="1.50"/><rect x="660.61" y="287.50" width="3.5" height="1.30"/><rect x="714.87" y="301.80" width="3.5" height="1.90"/><rect x="786.39" y="304.60" width="3.5" height="1.00"/><rect x="818.45" y="345.70" width="3.5" height="1.00"/><rect x="862.85" y="346.70" width="3.5" height="1.10"/><rect x="899.84" y="244.40" width="3.5" height="1.00"/><rect x="914.64" y="348.80" width="3.5" height="1.10"/><rect x="968.90" y="361.80" width="3.5" height="1.40"/><rect x="976.30" y="363.20" width="3.5" height="1.10"/></g>
<g fill="#034a55"><rect x="68.70" y="356.60" width="3.5" height="1.60"/><rect x="105.69" y="252.50" width="3.5" height="1.50"/><rect x="130.36" y="293.20" width="3.5" height="2.60"/><rect x="404.12" y="302.00" width="3.5" height="1.20"/><rect x="1000.96" y="337.00" width="3.5" height="2.40"/></g>
<g fill="#c4de48"><rect x="61.30" y="317.00" width="3.5" height="1.50"/><rect x="68.70" y="358.20" width="3.5" height="7.30"/><rect x="73.63" y="262.00" width="3.5" height="11.10"/><rect x="76.10" y="208.00" width="3.5" height="1.50"/><rect x="85.96" y="227.50" width="3.5" height="2.50"/><rect x="88.43" y="250.40" width="3.5" height="1.60"/><rect x="90.90" y="277.30" width="3.5" height="5.70"/><rect x="95.83" y="344.00" width="3.5" height="4.80"/><rect x="103.23" y="297.50" width="3.5" height="6.30"/><rect x="108.16" y="255.50" width="3.5" height="1.50"/><rect x="110.63" y="236.40" width="3.5" height="2.20"/><rect x="113.09" y="273.00" width="3.5" height="2.20"/><rect x="122.96" y="317.00" width="3.5" height="1.50"/><rect x="125.42" y="309.70" width="3.5" height="2.20"/><rect x="142.69" y="266.00" width="3.5" height="6.00"/><rect x="145.15" y="243.40" width="3.5" height="8.50"/><rect x="155.02" y="272.00" width="3.5" height="1.50"/><rect x="157.49" y="275.90" width="3.5" height="1.80"/><rect x="159.95" y="300.00" width="3.5" height="1.50"/><rect x="162.42" y="266.00" width="3.5" height="9.30"/><rect x="174.75" y="257.80" width="3.5" height="1.80"/><rect x="179.68" y="357.70" width="3.5" height="15.10"/><rect x="182.15" y="316.90" width="3.5" height="1.60"/><rect x="189.55" y="336.80" width="3.5" height="3.20"/><rect x="206.81" y="349.90" width="3.5" height="3.10"/><rect x="216.68" y="245.00" width="3.5" height="1.40"/><rect x="224.08" y="239.10" width="3.5" height="8.20"/><rect x="246.27" y="257.70" width="3.5" height="3.00"/><rect x="251.21" y="232.60" width="3.5" height="2.30"/><rect x="261.07" y="252.20" width="3.5" height="10.80"/><rect x="266.00" y="298.50" width="3.5" height="3.80"/><rect x="268.47" y="276.20" width="3.5" height="1.60"/><rect x="278.33" y="308.30" width="3.5" height="8.70"/><rect x="283.27" y="270.40" width="3.5" height="1.70"/><rect x="315.33" y="317.00" width="3.5" height="1.50"/><rect x="335.06" y="345.70" width="3.5" height="4.20"/><rect x="344.92" y="361.50" width="3.5" height="1.40"/><rect x="347.39" y="402.80" width="3.5" height="7.80"/><rect x="349.86" y="375.00" width="3.5" height="4.40"/><rect x="352.32" y="340.30" width="3.5" height="2.60"/><rect x="354.79" y="287.10" width="3.5" height="1.60"/><rect x="364.65" y="317.00" width="3.5" height="1.50"/><rect x="396.72" y="295.80" width="3.5" height="2.10"/><rect x="436.18" y="291.70" width="3.5" height="3.20"/><rect x="450.98" y="343.60" width="3.5" height="2.10"/><rect x="455.91" y="317.00" width="3.5" height="1.50"/><rect x="483.04" y="287.60" width="3.5" height="4.10"/><rect x="485.50" y="244.30" width="3.5" height="3.30"/><rect x="487.97" y="243.50" width="3.5" height="2.50"/><rect x="492.90" y="287.10" width="3.5" height="1.40"/><rect x="507.70" y="277.00" width="3.5" height="4.50"/><rect x="539.76" y="293.00" width="3.5" height="2.30"/><rect x="554.56" y="292.00" width="3.5" height="1.30"/><rect x="557.03" y="269.60" width="3.5" height="2.20"/><rect x="571.82" y="281.90" width="3.5" height="2.40"/><rect x="579.22" y="367.00" width="3.5" height="1.60"/><rect x="594.02" y="340.00" width="3.5" height="1.50"/><rect x="596.49" y="310.90" width="3.5" height="1.10"/><rect x="626.08" y="286.10" width="3.5" height="1.90"/><rect x="640.88" y="270.20" width="3.5" height="1.40"/><rect x="648.28" y="277.30" width="3.5" height="1.20"/><rect x="660.61" y="286.10" width="3.5" height="1.40"/><rect x="675.41" y="311.30" width="3.5" height="1.70"/><rect x="677.87" y="301.40" width="3.5" height="1.30"/><rect x="680.34" y="220.60" width="3.5" height="7.60"/><rect x="682.81" y="234.90" width="3.5" height="2.60"/><rect x="690.21" y="284.20" width="3.5" height="0.70"/><rect x="692.67" y="280.40" width="3.5" height="1.80"/><rect x="695.14" y="253.00" width="3.5" height="1.40"/><rect x="697.61" y="276.50" width="3.5" height="1.90"/><rect x="712.40" y="305.60" width="3.5" height="1.90"/><rect x="714.87" y="299.80" width="3.5" height="2.00"/><rect x="724.73" y="302.70" width="3.5" height="1.90"/><rect x="734.60" y="381.10" width="3.5" height="2.90"/><rect x="749.40" y="296.00" width="3.5" height="2.90"/><rect x="751.86" y="286.10" width="3.5" height="1.90"/><rect x="759.26" y="304.60" width="3.5" height="1.90"/><rect x="764.20" y="310.90" width="3.5" height="1.30"/><rect x="778.99" y="359.60" width="3.5" height="1.40"/><rect x="796.26" y="311.30" width="3.5" height="1.50"/><rect x="813.52" y="291.80" width="3.5" height="2.20"/><rect x="828.32" y="288.90" width="3.5" height="1.70"/><rect x="833.25" y="259.40" width="3.5" height="1.90"/><rect x="838.18" y="266.40" width="3.5" height="1.90"/><rect x="850.52" y="304.60" width="3.5" height="1.20"/><rect x="867.78" y="298.90" width="3.5" height="1.60"/><rect x="870.25" y="343.60" width="3.5" height="2.10"/><rect x="872.71" y="351.40" width="3.5" height="1.60"/><rect x="880.11" y="273.10" width="3.5" height="5.70"/><rect x="885.04" y="263.20" width="3.5" height="2.30"/><rect x="887.51" y="267.00" width="3.5" height="1.30"/><rect x="889.98" y="239.10" width="3.5" height="2.50"/><rect x="897.38" y="220.60" width="3.5" height="4.40"/><rect x="922.04" y="359.80" width="3.5" height="1.50"/><rect x="934.37" y="280.40" width="3.5" height="2.60"/><rect x="949.17" y="305.60" width="3.5" height="1.90"/><rect x="954.10" y="356.30" width="3.5" height="2.10"/><rect x="971.36" y="299.00" width="3.5" height="2.50"/><rect x="986.16" y="275.60" width="3.5" height="1.30"/><rect x="991.10" y="362.50" width="3.5" height="25.70"/></g>
</g>
<rect x="58.5" y="479.5" width="945" height="1.8" fill="#b3b3b3"/>
<g fill="none" stroke="#cac5a6" stroke-width="1.8">
<path d="M992.1,388.5 L992.1,420.2 L979.6,420.2"/>
<path d="M1002.4,339.6 L1002.4,447.7 L979.6,447.7"/>
</g>
<g fill="#d6d6d6">
<rect x="822.1" y="524.4" width="32.2" height="31" rx="2.6"/>
<rect x="859.3" y="524.4" width="32.3" height="31" rx="2.6"/>
<rect x="897" y="524.4" width="31.8" height="31" rx="2.6"/>
<rect x="934.2" y="524.4" width="32.3" height="31" rx="2.6"/>
<rect x="971.7" y="524.4" width="32.2" height="31" rx="2.6"/>
</g>
<text x="378.30" y="56.6" font-size="29.86" font-weight="normal" fill="#fff" textLength="53.30" lengthAdjust="spacingAndGlyphs" stroke="#fff" stroke-width="0.3">Flujos</text>
<text x="436.22" y="56.6" font-size="29.86" font-weight="normal" fill="#fff" textLength="21.74" lengthAdjust="spacingAndGlyphs" stroke="#fff" stroke-width="0.3">de</text>
<text x="462.82" y="56.6" font-size="29.86" font-weight="normal" fill="#fff" textLength="34.84" lengthAdjust="spacingAndGlyphs" stroke="#fff" stroke-width="0.3">ETF</text>
<text x="502.13" y="56.6" font-size="29.86" font-weight="normal" fill="#fff" textLength="21.47" lengthAdjust="spacingAndGlyphs" stroke="#fff" stroke-width="0.3">de</text>
<text x="527.54" y="56.6" font-size="29.86" font-weight="normal" fill="#fff" textLength="62.12" lengthAdjust="spacingAndGlyphs" stroke="#fff" stroke-width="0.3">Bitcoin</text>
<text x="594.07" y="56.6" font-size="29.86" font-weight="normal" fill="#fff" textLength="16.23" lengthAdjust="spacingAndGlyphs" stroke="#fff" stroke-width="0.3">al</text>
<text x="614.08" y="56.6" font-size="29.86" font-weight="normal" fill="#fff" textLength="72.86" lengthAdjust="spacingAndGlyphs" stroke="#fff" stroke-width="0.3">contado</text>
<text x="244.80" y="128.6" font-size="15.94" font-weight="normal" fill="#fff" textLength="20.44" lengthAdjust="spacingAndGlyphs" >IBIT</text>
<text x="291.38" y="128.6" font-size="15.94" font-weight="normal" fill="#fff" textLength="28.96" lengthAdjust="spacingAndGlyphs" >GBTC</text>
<text x="345.42" y="128.6" font-size="15.94" font-weight="normal" fill="#fff" textLength="27.22" lengthAdjust="spacingAndGlyphs" >FBTC</text>
<text x="398.90" y="128.6" font-size="15.94" font-weight="normal" fill="#fff" textLength="28.19" lengthAdjust="spacingAndGlyphs" >ARKB</text>
<text x="453.82" y="128.6" font-size="15.94" font-weight="normal" fill="#fff" textLength="24.50" lengthAdjust="spacingAndGlyphs" >BITB</text>
<text x="503.56" y="128.6" font-size="15.94" font-weight="normal" fill="#fff" textLength="28.03" lengthAdjust="spacingAndGlyphs" >EZBC</text>
<text x="557.28" y="128.6" font-size="15.94" font-weight="normal" fill="#fff" textLength="30.16" lengthAdjust="spacingAndGlyphs" >BTCW</text>
<text x="613.95" y="128.6" font-size="15.94" font-weight="normal" fill="#fff" textLength="29.56" lengthAdjust="spacingAndGlyphs" >BTCO</text>
<text x="668.89" y="128.6" font-size="15.94" font-weight="normal" fill="#fff" textLength="28.53" lengthAdjust="spacingAndGlyphs" >BRRR</text>
<text x="722.74" y="128.6" font-size="15.94" font-weight="normal" fill="#fff" textLength="29.74" lengthAdjust="spacingAndGlyphs" >HODL</text>
<text x="778.14" y="128.6" font-size="15.94" font-weight="normal" fill="#fff" textLength="21.40" lengthAdjust="spacingAndGlyphs" >BTC</text>
<text x="43.50" y="506.3" font-size="15.65" font-weight="normal" fill="#fff" textLength="37.69" lengthAdjust="spacingAndGlyphs" >Nov &#39;24</text>
<text x="117.60" y="506.3" font-size="15.65" font-weight="normal" fill="#fff" textLength="37.79" lengthAdjust="spacingAndGlyphs" >Dec &#39;24</text>
<text x="195.39" y="506.3" font-size="15.65" font-weight="normal" fill="#fff" textLength="36.02" lengthAdjust="spacingAndGlyphs" >Jan &#39;25</text>
<text x="271.12" y="506.3" font-size="15.65" font-weight="normal" fill="#fff" textLength="36.48" lengthAdjust="spacingAndGlyphs" >Feb &#39;25</text>
<text x="339.38" y="506.3" font-size="15.65" font-weight="normal" fill="#fff" textLength="37.93" lengthAdjust="spacingAndGlyphs" >Mar &#39;25</text>
<text x="417.90" y="506.3" font-size="15.65" font-weight="normal" fill="#fff" textLength="35.00" lengthAdjust="spacingAndGlyphs" >Apr &#39;25</text>
<text x="488.78" y="506.3" font-size="15.65" font-weight="normal" fill="#fff" textLength="40.04" lengthAdjust="spacingAndGlyphs" >May &#39;25</text>
<text x="567.19" y="506.3" font-size="15.65" font-weight="normal" fill="#fff" textLength="36.63" lengthAdjust="spacingAndGlyphs" >Jun &#39;25</text>
<text x="643.39" y="506.3" font-size="15.65" font-weight="normal" fill="#fff" textLength="32.42" lengthAdjust="spacingAndGlyphs" >Jul &#39;25</text>
<text x="717.70" y="506.3" font-size="15.65" font-weight="normal" fill="#fff" textLength="37.00" lengthAdjust="spacingAndGlyphs" >Aug &#39;25</text>
<text x="794.27" y="506.3" font-size="15.65" font-weight="normal" fill="#fff" textLength="36.12" lengthAdjust="spacingAndGlyphs" >Sep &#39;25</text>
<text x="868.85" y="506.3" font-size="15.65" font-weight="normal" fill="#fff" textLength="35.15" lengthAdjust="spacingAndGlyphs" >Oct &#39;25</text>
<text x="943.80" y="506.3" font-size="15.65" font-weight="normal" fill="#fff" textLength="37.91" lengthAdjust="spacingAndGlyphs" >Nov &#39;25</text>
<text x="24.69" y="163.3" font-size="16.52" font-weight="normal" fill="#fff" textLength="19.03" lengthAdjust="spacingAndGlyphs" >$2b</text>
<text x="24.69" y="244.3" font-size="16.52" font-weight="normal" fill="#fff" textLength="19.03" lengthAdjust="spacingAndGlyphs" >$1b</text>
<text x="30.99" y="325.1" font-size="16.52" font-weight="normal" fill="#fff" textLength="12.73" lengthAdjust="spacingAndGlyphs" >$0</text>
<text x="21.89" y="405.9" font-size="16.52" font-weight="normal" fill="#fff" textLength="21.80" lengthAdjust="spacingAndGlyphs" >$-1b</text>
<text x="21.89" y="486.9" font-size="16.52" font-weight="normal" fill="#fff" textLength="21.80" lengthAdjust="spacingAndGlyphs" >$-2b</text>
<text x="14.62" y="537.8" font-size="14.57" font-weight="bold" fill="#fff" textLength="103.23" lengthAdjust="spacingAndGlyphs" >FUENTE: THE BLOCK.</text>
<text x="15.00" y="555.4" font-size="15.14" font-weight="bold" fill="#fff" textLength="211.27" lengthAdjust="spacingAndGlyphs" >ACTUALIZADO: 19 DE NOVIEMBRE DE 2025.</text>
<text x="780.98" y="545.3" font-size="15.00" font-weight="bold" fill="#fff" textLength="33.12" lengthAdjust="spacingAndGlyphs" >ZOOM</text>
<text x="828.85" y="545.8" font-size="13.00" font-weight="bold" fill="#161616" textLength="15.02" lengthAdjust="spacingAndGlyphs" >ALL</text>
<text x="865.92" y="545.8" font-size="13.00" font-weight="bold" fill="#161616" textLength="16.75" lengthAdjust="spacingAndGlyphs" >YTD</text>
<text x="904.16" y="545.8" font-size="13.00" font-weight="bold" fill="#161616" textLength="17.40" lengthAdjust="spacingAndGlyphs" >12M</text>
<text x="943.71" y="545.8" font-size="13.00" font-weight="bold" fill="#161616" textLength="13.08" lengthAdjust="spacingAndGlyphs" >3M</text>
<text x="981.46" y="545.8" font-size="13.00" font-weight="bold" fill="#161616" textLength="12.51" lengthAdjust="spacingAndGlyphs" >1M</text>
<text x="879.91" y="427.6" font-size="28.00" font-weight="bold" fill="#ff0000" textLength="100.56" lengthAdjust="spacingAndGlyphs" stroke="#ff0000" stroke-width="0.5">-$866M</text>
<text x="880.81" y="456.9" font-size="27.86" font-weight="bold" fill="#f23d3d" textLength="100.04" lengthAdjust="spacingAndGlyphs" stroke="#f23d3d" stroke-width="0.5">-$254M</text>
</svg>
</body></html>
